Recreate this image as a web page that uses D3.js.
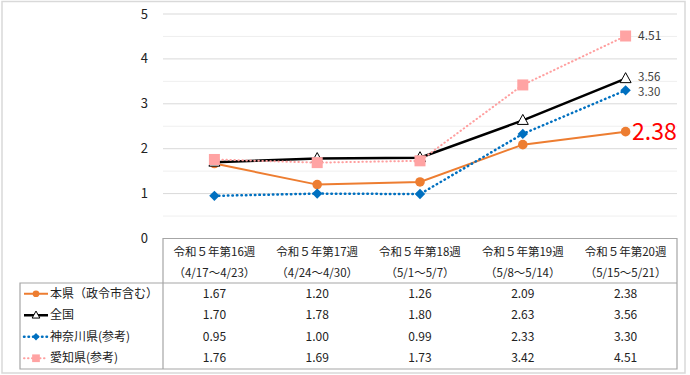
<!DOCTYPE html>
<html>
<head>
<meta charset="utf-8">
<script src="https://cdn.jsdelivr.net/npm/d3@7"></script>
<style>
  body { margin: 0; background: #fff; }
  text { font-family: "Noto Sans CJK JP", "Noto Sans", sans-serif; }
</style>
</head>
<body>
<div id="chart"></div>
<script>
// data
const weeks = ["令和５年第16週", "令和５年第17週", "令和５年第18週", "令和５年第19週", "令和５年第20週"];
const ranges = ["（4/17～4/23）", "（4/24～4/30）", "（5/1～5/7）", "（5/8～5/14）", "（5/15～5/21）"];
const seriesNames = ["本県（政令市含む）", "全国", "神奈川県(参考)", "愛知県(参考)"];
const honken = [1.67, 1.20, 1.26, 2.09, 2.38];
const zenkoku = [1.70, 1.78, 1.80, 2.63, 3.56];
const kanagawa = [0.95, 1.00, 0.99, 2.33, 3.30];
const aichi = [1.76, 1.69, 1.73, 3.42, 4.51];
const yTicks = [0, 1, 2, 3, 4, 5];

let width = 690, height = 375;

const svg = d3.select("#chart").append("svg")
  .attr("width", width).attr("height", height);

// outer frame
svg.append("rect")
  .attr("x", 2).attr("y", 1.5).attr("width", 683).attr("height", 371.5)
  .attr("fill", "#fff").attr("stroke", "#d9d9d9").attr("stroke-width", 1.5);

let x = d3.scaleBand().domain(weeks).range([163, 677]);
let y = d3.scaleLinear().domain([0, 5]).range([238.5, 14]);
const cx = d => x(d) + x.bandwidth() / 2;

// minor + major gridlines
svg.append("g").selectAll("line")
  .data(d3.range(0.5, 5, 1))
  .join("line")
  .attr("x1", 163).attr("x2", 677)
  .attr("y1", d => y(d)).attr("y2", d => y(d))
  .attr("stroke", "#efefef").attr("stroke-width", 1);

svg.append("g").selectAll("line")
  .data(yTicks.slice(1))
  .join("line")
  .attr("x1", 163).attr("x2", 677)
  .attr("y1", d => y(d)).attr("y2", d => y(d))
  .attr("stroke", "#d9d9d9").attr("stroke-width", 1);

// y axis labels
svg.append("g").selectAll("text")
  .data(yTicks)
  .join("text")
  .attr("x", 148).attr("y", d => y(d))
  .attr("dy", "0.35em")
  .attr("text-anchor", "end")
  .attr("font-size", 13)
  .attr("fill", "#222")
  .text(d => d);

const series = [
  { name: seriesNames[0], values: honken, color: "#ed7d31", width: 2, dash: null, marker: "circle", mcolor: "#ed7d31" },
  { name: seriesNames[1], values: zenkoku, color: "#000", width: 2.5, dash: null, marker: "triangle", mcolor: "#fff" },
  { name: seriesNames[2], values: kanagawa, color: "#0070c0", width: 2.5, dash: "0.5,4", marker: "diamond", mcolor: "#0070c0" },
  { name: seriesNames[3], values: aichi, color: "#ff9f9f", width: 2, dash: "0.5,3.5", marker: "square", mcolor: "#ffa3a3" }
];

// k: 1 for plot markers, smaller for legend
function drawMarker(g, type, fill, k) {
  if (type === "circle") {
    g.append("circle").attr("r", 4.8 * k).attr("fill", fill);
  } else if (type === "triangle") {
    g.append("path")
      .attr("d", `M0,${-6 * k}L${5.5 * k},${4 * k}L${-5.5 * k},${4 * k}Z`)
      .attr("fill", fill).attr("stroke", "#000").attr("stroke-width", 1);
  } else if (type === "diamond") {
    const s = 5.2 * k;
    g.append("path")
      .attr("d", `M0,${-s}L${s},0L0,${s}L${-s},0Z`)
      .attr("fill", fill);
  } else {
    const s = 5.5 * k;
    g.append("rect").attr("x", -s).attr("y", -s).attr("width", 2 * s).attr("height", 2 * s)
      .attr("fill", fill);
  }
}

const line = d3.line().x((d, i) => cx(weeks[i])).y(d => y(d));

series.forEach(s => {
  svg.append("path")
    .datum(s.values)
    .attr("d", line)
    .attr("fill", "none")
    .attr("stroke", s.color)
    .attr("stroke-width", s.width)
    .attr("stroke-linecap", s.dash ? "round" : "butt")
    .attr("stroke-dasharray", s.dash);
  s.values.forEach((v, i) => {
    const g = svg.append("g").attr("transform", `translate(${cx(weeks[i])},${y(v)})`);
    drawMarker(g, s.marker, s.mcolor, 1);
  });
});

// end labels
const last = weeks.length - 1;
const lab = (v, yy, size, color, xx) => svg.append("text")
  .attr("x", xx).attr("y", yy).attr("dy", "0.35em")
  .attr("font-size", size).attr("fill", color)
  .attr("font-family", "Open Sans, sans-serif").text(v.toFixed(2));
lab(aichi[last], y(aichi[last]), 12, "#404040", 638);
lab(zenkoku[last], y(zenkoku[last]) - 1.5, 11.5, "#404040", 638);
lab(kanagawa[last], y(kanagawa[last]) + 2, 11.5, "#404040", 638);
lab(honken[last], y(honken[last]) + 0.5, 23, "#ff0000", 632);

// data table
const tableTop = 238.5, headerBottom = 283, tableBottom = 369, tableLeft = 20, tableRight = 677;
const rowH = (tableBottom - headerBottom) / series.length;
svg.append("path")
  .attr("fill", "none").attr("stroke", "#a6a6a6").attr("stroke-width", 1.2)
  .attr("d", `M163,${tableBottom}V${tableTop}H${tableRight}V${tableBottom}H${tableLeft}V${headerBottom}H${tableRight}`);

svg.append("g").selectAll("text")
  .data(weeks)
  .join("text")
  .attr("x", d => cx(d)).attr("y", 252).attr("dy", "0.35em")
  .attr("text-anchor", "middle").attr("font-size", 11.5).attr("fill", "#222")
  .text(d => d);

svg.append("g").selectAll("text")
  .data(ranges)
  .join("text")
  .attr("x", (d, i) => cx(weeks[i])).attr("y", 273).attr("dy", "0.35em")
  .attr("text-anchor", "middle").attr("font-size", 11.5).attr("fill", "#222")
  .text(d => d);

series.forEach((s, r) => {
  const ry = headerBottom + rowH * (r + 0.5);
  svg.append("line")
    .attr("x1", 24).attr("x2", 48).attr("y1", ry).attr("y2", ry)
    .attr("stroke", s.color).attr("stroke-width", s.width)
    .attr("stroke-linecap", s.dash ? "round" : "butt")
    .attr("stroke-dasharray", s.dash);
  const g = svg.append("g").attr("transform", `translate(36,${ry})`);
  drawMarker(g, s.marker, s.mcolor, 0.7);
  svg.append("text")
    .attr("x", 50).attr("y", ry).attr("dy", "0.35em")
    .attr("font-size", 12).attr("fill", "#222")
    .text(s.name);
  svg.append("g").selectAll("text")
    .data(s.values)
    .join("text")
    .attr("x", (d, i) => cx(weeks[i])).attr("y", ry).attr("dy", "0.35em")
    .attr("text-anchor", "middle").attr("font-size", 12).attr("fill", "#222")
    .attr("font-family", "Open Sans, sans-serif")
    .text(d => d.toFixed(2));
});
</script>
</body>
</html>
